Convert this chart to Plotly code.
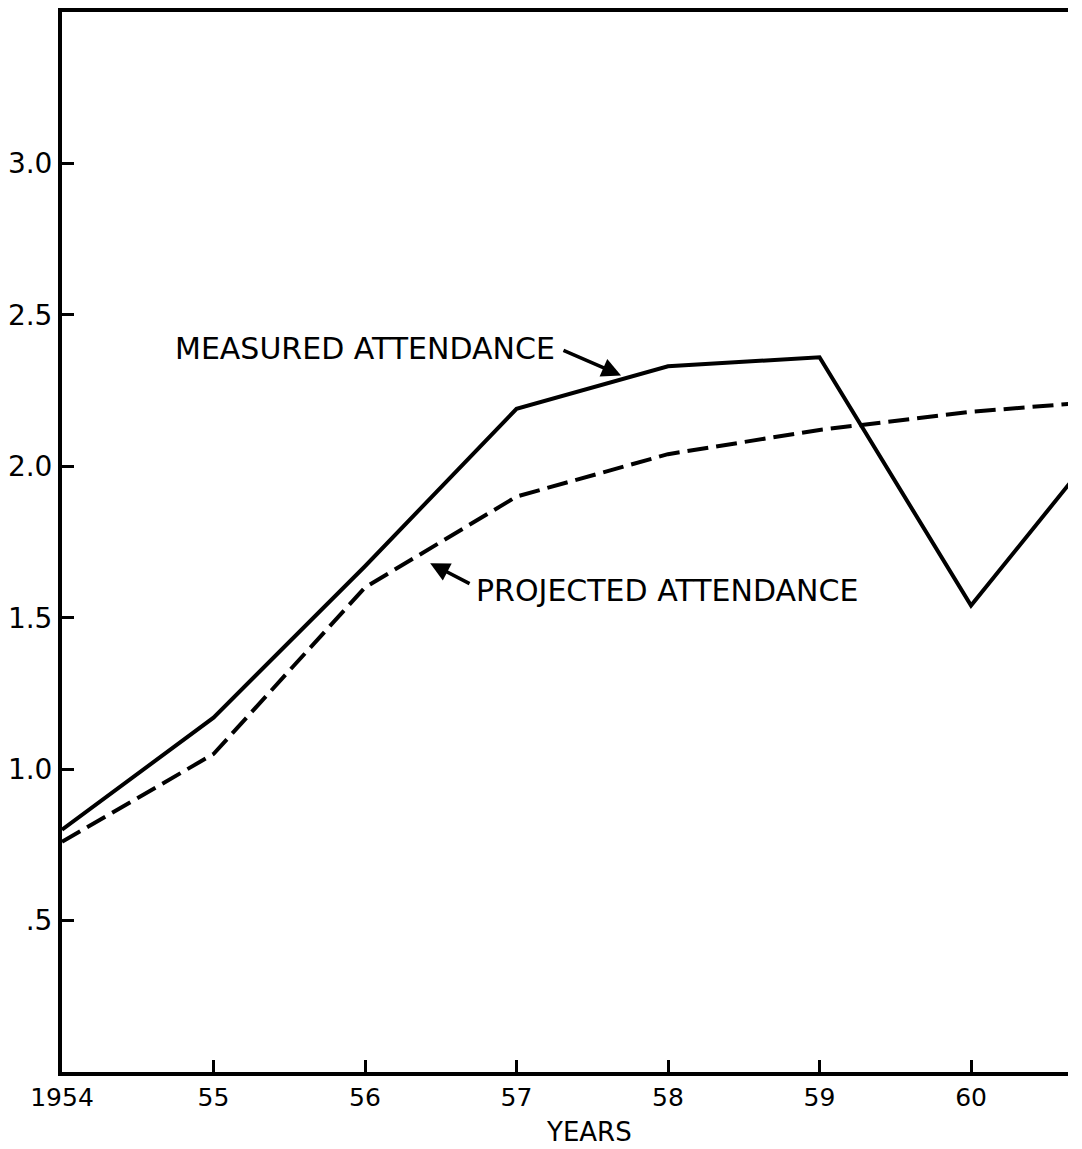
import plotly.graph_objects as go

years = [1954, 1955, 1956, 1957, 1958, 1959, 1960, 1961]
measured = [0.80, 1.17, 1.67, 2.19, 2.33, 2.36, 1.54, 2.16]
projected = [0.76, 1.05, 1.60, 1.90, 2.04, 2.12, 2.18, 2.22]

x_tickvals = [1954, 1955, 1956, 1957, 1958, 1959, 1960]
x_ticktext = ["1954", "55", "56", "57", "58", "59", "60"]
y_tickvals = [0.5, 1.0, 1.5, 2.0, 2.5, 3.0]
y_ticktext = [".5", "1.0", "1.5", "2.0", "2.5", "3.0"]

FONT = "DejaVu Sans"

fig = go.Figure()
fig.add_trace(go.Scatter(x=years, y=measured, mode="lines",
                         line=dict(color="black", width=4),
                         name="Measured attendance", showlegend=False))
fig.add_trace(go.Scatter(x=years, y=projected, mode="lines",
                         line=dict(color="black", width=4, dash="21px,8px"),
                         name="Projected attendance", showlegend=False))

# labels
fig.add_annotation(x=1957.27, y=2.39, xref="x", yref="y", text="MEASURED ATTENDANCE",
                   showarrow=False, xanchor="right", yanchor="middle",
                   font=dict(family=FONT, size=30, color="black"))
fig.add_annotation(x=1957.69, y=2.30, xref="x", yref="y", ax=1957.30, ay=2.385,
                   axref="x", ayref="y", text="", showarrow=True,
                   arrowhead=2, arrowsize=1.1, arrowwidth=3.5, arrowcolor="black")
fig.add_annotation(x=1956.72, y=1.59, xref="x", yref="y", text="PROJECTED ATTENDANCE",
                   showarrow=False, xanchor="left", yanchor="middle",
                   font=dict(family=FONT, size=30, color="black"))
fig.add_annotation(x=1956.43, y=1.68, xref="x", yref="y", ax=1956.70, ay=1.61,
                   axref="x", ayref="y", text="", showarrow=True,
                   arrowhead=2, arrowsize=1.1, arrowwidth=3.5, arrowcolor="black")
fig.add_annotation(x=0.524, y=-0.041, xref="paper", yref="paper", text="YEARS",
                   showarrow=False, yanchor="top",
                   font=dict(family=FONT, size=26, color="black"))

fig.update_xaxes(range=[1954, 1960.64], tickvals=x_tickvals, ticktext=x_ticktext,
                 showline=True, linecolor="black", linewidth=4, mirror=True,
                 ticks="inside", ticklen=12, tickwidth=3, tickcolor="black",
                 showgrid=False, zeroline=False,
                 tickfont=dict(family=FONT, size=25, color="black"))
fig.update_yaxes(range=[0, 3.5], tickvals=y_tickvals, ticktext=y_ticktext,
                 showline=True, linecolor="black", linewidth=4, mirror=False,
                 ticks="inside", ticklen=12, tickwidth=3, tickcolor="black",
                 showgrid=False, zeroline=False,
                 tickfont=dict(family=FONT, size=28, color="black"))

fig.update_layout(width=1074, height=1141,
                  margin=dict(l=47, r=14, t=0, b=77),
                  paper_bgcolor="white", plot_bgcolor="white",
                  font=dict(family=FONT, color="black"))

fig.write_html("out.html")
